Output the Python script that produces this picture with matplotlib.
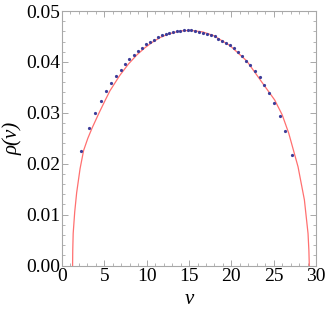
import numpy as np
import matplotlib
matplotlib.use("Agg")
import matplotlib.pyplot as plt
from matplotlib.ticker import MultipleLocator

# eigenvalue density estimate
dot_x = [2.24, 3.19, 3.90, 4.61, 5.20, 5.83, 6.38, 6.93, 7.44, 7.95,
         8.46, 8.98, 9.45, 9.92, 10.39, 10.87, 11.34, 11.77, 12.24, 12.68,
         13.11, 13.54, 13.98, 14.41, 14.84, 15.28, 15.75, 16.18, 16.62, 17.09,
         17.56, 18.03, 18.46, 18.94, 19.41, 19.84, 20.32, 20.79, 21.26, 21.73,
         22.24, 22.79, 23.35, 23.90, 24.45, 25.04, 25.71, 26.38, 27.16]
dot_y = [0.0226, 0.0270, 0.0299, 0.0323, 0.0343, 0.0359, 0.0373, 0.0385, 0.0396, 0.0405,
         0.0414, 0.0421, 0.0428, 0.0435, 0.0439, 0.0444, 0.0448, 0.0452, 0.0454, 0.0457,
         0.0458, 0.0460, 0.0461, 0.0462, 0.0462, 0.0462, 0.0461, 0.0459, 0.0457, 0.0455,
         0.0452, 0.0450, 0.0446, 0.0442, 0.0438, 0.0433, 0.0427, 0.0420, 0.0412, 0.0402,
         0.0393, 0.0382, 0.0370, 0.0355, 0.0339, 0.0319, 0.0294, 0.0264, 0.0218]

# theoretical curve
curve_x = [1.25, 1.27, 1.32, 1.50, 1.73, 2.13, 2.55, 3.05, 3.55, 4.35,
           5.05, 5.65, 6.80, 7.85, 8.85, 9.80, 10.70, 11.60, 12.45, 13.25,
           14.05, 15.20, 16.60, 17.87, 19.84, 21.81, 23.78, 24.56, 25.12, 26.00,
           26.77, 27.87, 28.62, 29.05, 29.15, 29.20]
curve_y = [0.0, 0.0030, 0.0063, 0.0105, 0.0143, 0.0190, 0.0226, 0.0250, 0.0270, 0.0299,
           0.0323, 0.0343, 0.0373, 0.0396, 0.0414, 0.0428, 0.0439, 0.0448, 0.0454, 0.0458,
           0.0461, 0.0462, 0.0459, 0.0452, 0.0432, 0.0402, 0.0356, 0.0338, 0.0325, 0.0296,
           0.0260, 0.0194, 0.0129, 0.0063, 0.0030, 0.0]

plt.rcParams['font.family'] = ['Liberation Serif', 'DejaVu Serif']

fig = plt.figure(figsize=(3.27, 3.15), dpi=100)
ax = fig.add_axes([0.1896, 0.157, 0.777, 0.808])

ax.plot(curve_x, curve_y, color='#ff7070', lw=0.9, zorder=2)
ax.plot(dot_x, dot_y, 'o', color='#3d3d99', ms=2.3, mew=0, zorder=3)

ax.set_xlim(0, 30)
ax.set_ylim(0, 0.05)
ax.xaxis.set_major_locator(MultipleLocator(5))
ax.xaxis.set_minor_locator(MultipleLocator(1))
ax.yaxis.set_major_locator(MultipleLocator(0.01))
ax.yaxis.set_minor_locator(MultipleLocator(0.002))
ax.yaxis.set_major_formatter(matplotlib.ticker.FormatStrFormatter('%.2f'))

frame_col = '#a8a8a8'
for s in ax.spines.values():
    s.set_color(frame_col)
    s.set_linewidth(0.8)
ax.tick_params(which='both', direction='in', top=True, right=True,
               color=frame_col, labelsize=14, pad=1.5)
ax.tick_params(which='major', length=4, width=0.7)
ax.tick_params(which='minor', length=2, width=0.6)

ax.set_xlabel('v', fontsize=15, style='italic', labelpad=4)
ax.set_ylabel('ρ(v)', fontsize=15, style='italic', labelpad=2)

fig.savefig('out.png', dpi=100)
